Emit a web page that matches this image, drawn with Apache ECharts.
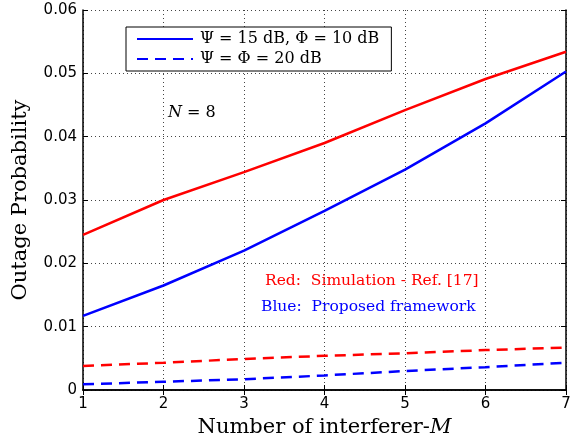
<!DOCTYPE html>
<html>
<head>
<meta charset="utf-8">
<script src="https://cdn.jsdelivr.net/npm/echarts@6/dist/echarts.min.js"></script>
<style>
  html, body { margin: 0; padding: 0; background: #fff; }
  #chart { width: 570px; height: 438px; }
</style>
</head>
<body>
<div id="chart"></div>
<script>
// values
const interferers = [1, 2, 3, 4, 5, 6, 7];
const simLow = [0.0245, 0.0300, 0.0344, 0.0390, 0.0442, 0.0491, 0.0534];
const propLow = [0.0117, 0.0165, 0.0220, 0.0283, 0.0348, 0.0421, 0.0503];
const simHigh = [0.0038, 0.0043, 0.0049, 0.0054, 0.0058, 0.0063, 0.0067];
const propHigh = [0.0009, 0.0013, 0.0017, 0.0023, 0.0030, 0.0036, 0.0043];
const legendNames = ["\u03A8 = 15 dB, \u03A6 = 10 dB", "\u03A8 = \u03A6 = 20 dB"];

const serif = "DejaVu Serif";
const sans = "DejaVu Sans";

function pairs(ys) {
  return interferers.map((x, i) => [x, ys[i]]);
}

function makeLine(name, ys, color, dashed) {
  return {
    name: name,
    type: "line",
    data: pairs(ys),
    symbol: "none",
    smooth: false,
    lineStyle: {
      color: color,
      width: 2.5,
      type: dashed ? [11, 7] : "solid"
    },
    itemStyle: { color: color },
    animation: false
  };
}

const chart = echarts.init(document.getElementById("chart"));

const gridLine = {
  show: true,
  lineStyle: { color: "#444", width: 1, type: [1, 3] }
};

chart.setOption({
  backgroundColor: "#fff",
  grid: { left: 83, right: 4, top: 10, bottom: 48, outerBoundsMode: "none", containLabel: false },
  xAxis: [
    {
      type: "value",
      min: 1,
      max: 7,
      interval: 1,
      name: "Number of interferer-{i|M}",
      nameLocation: "middle",
      nameGap: 25,
      nameTextStyle: {
        fontFamily: serif,
        fontSize: 21,
        color: "#000",
        rich: { i: { fontFamily: serif, fontSize: 21, fontStyle: "italic", color: "#000" } }
      },
      axisLine: { show: true, lineStyle: { color: "#000", width: 1.5 } },
      axisTick: { show: true, inside: true, length: 5, lineStyle: { color: "#000" } },
      axisLabel: { fontFamily: sans, fontSize: 15, color: "#000", margin: 7 },
      splitLine: gridLine
    },
    {
      type: "value",
      position: "top",
      min: 1,
      max: 7,
      interval: 1,
      axisLine: { show: true, lineStyle: { color: "#000", width: 1.5 } },
      axisTick: { show: true, inside: true, length: 5, lineStyle: { color: "#000" } },
      axisLabel: { show: false },
      splitLine: { show: false }
    }
  ],
  yAxis: [
    {
      type: "value",
      min: 0,
      max: 0.06,
      interval: 0.01,
      name: "Outage Probability",
      nameLocation: "middle",
      nameGap: 52,
      nameTextStyle: { fontFamily: serif, fontSize: 21, color: "#000" },
      axisLine: { show: true, lineStyle: { color: "#000", width: 1.5 } },
      axisTick: { show: true, inside: true, length: 5, lineStyle: { color: "#000" } },
      axisLabel: {
        fontFamily: sans,
        fontSize: 15,
        color: "#000",
        margin: 6,
        formatter: v => (v === 0 ? "0" : v.toFixed(2))
      },
      splitLine: gridLine
    },
    {
      type: "value",
      position: "right",
      min: 0,
      max: 0.06,
      interval: 0.01,
      axisLine: { show: true, lineStyle: { color: "#000", width: 1.5 } },
      axisTick: { show: true, inside: true, length: 5, lineStyle: { color: "#000" } },
      axisLabel: { show: false },
      splitLine: { show: false }
    }
  ],
  legend: {
    data: legendNames,
    orient: "vertical",
    left: 126,
    top: 27,
    itemWidth: 56,
    itemHeight: 14,
    itemGap: 4,
    padding: [4, 12, 4, 10],
    borderColor: "#000",
    borderWidth: 1,
    backgroundColor: "#fff",
    selectedMode: false,
    itemStyle: { color: "transparent", borderColor: "transparent", borderWidth: 0 },
    textStyle: { fontFamily: serif, fontSize: 16, color: "#000", padding: [0, 0, 0, 2] }
  },
  graphic: [
    {
      type: "text",
      left: 168,
      top: 105,
      style: {
        text: "{i|N} = 8",
        font: "16px " + serif,
        fill: "#000",
        rich: { i: { fontFamily: serif, fontSize: 16, fontStyle: "italic", fill: "#000" } }
      }
    },
    {
      type: "text",
      left: 265,
      top: 273,
      style: { text: "Red:  Simulation - Ref. [17]", font: "15.5px " + serif, fill: "#ff0000" }
    },
    {
      type: "text",
      left: 261,
      top: 299,
      style: { text: "Blue:  Proposed framework", font: "15.5px " + serif, fill: "#0000ff" }
    }
  ],
  series: [
    makeLine("simLow", simLow, "#ff0000", false),
    makeLine(legendNames[0], propLow, "#0000ff", false),
    makeLine("simHigh", simHigh, "#ff0000", true),
    makeLine(legendNames[1], propHigh, "#0000ff", true)
  ]
});
</script>
</body>
</html>
